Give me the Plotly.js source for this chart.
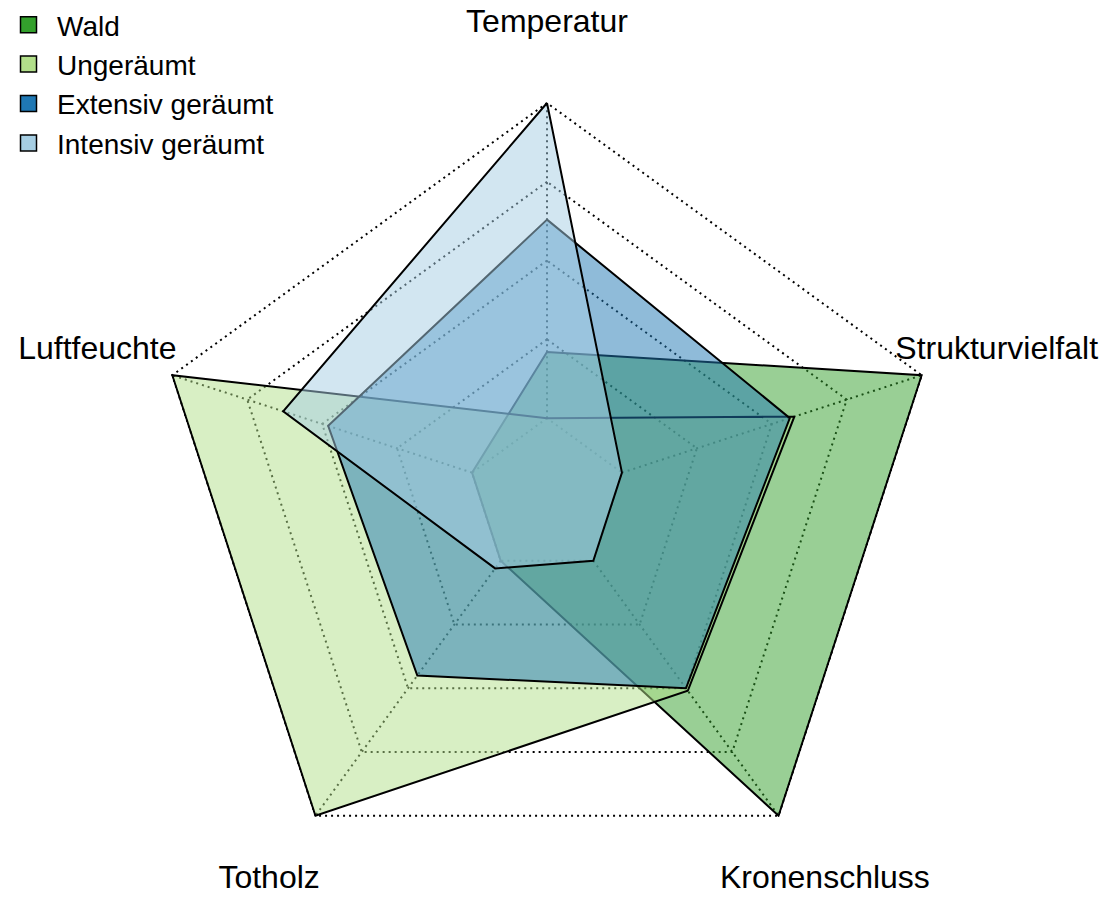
<!DOCTYPE html>
<html>
<head>
<meta charset="utf-8">
<script src="https://cdn.plot.ly/plotly-3.0.1.min.js"></script>
<style>
  html, body { margin: 0; padding: 0; background: #ffffff; }
  #chart { width: 1107px; height: 901px; }
</style>
</head>
<body>
<div id="chart"></div>
<script>
// Axes (counter-clockwise from the top, as in fmsb radar charts)
const categories = ["Temperatur", "Luftfeuchte", "Totholz", "Kronenschluss", "Strukturvielfalt"];

// Series (scaled 0 = min, 1 = max of each axis)
const seriesNames = ["Wald", "Ungeräumt", "Extensiv geräumt", "Intensiv geräumt"];
const wald       = [0.21, 0.00, 0.00, 1.00, 1.00];
const ungeraeumt = [0.00, 1.00, 1.00, 0.51, 0.575];
const extensiv   = [0.63, 0.48, 0.45, 0.50, 0.56];
const intensiv   = [1.00, 0.63, 0.03, 0.00, 0.00];

// Grid levels (4 segments)
const gridLevels = [0, 0.25, 0.5, 0.75, 1];

const seriesValues = [wald, ungeraeumt, extensiv, intensiv];
const colors = ["#33A02C", "#B2DF8A", "#1F78B4", "#A6CEE3"];
const fills  = ["rgba(51,160,44,0.5)", "rgba(178,223,138,0.5)", "rgba(31,120,180,0.5)", "rgba(166,206,227,0.5)"];
const FONT = "Liberation Sans, Arial, sans-serif";

// geometry of the radar (pixels)
const W = 1107, H = 901;
const CX = 547, CY = 497, R = 394;        // centre and radius of the max ring
const R_MIN = -0.25, R_MAX = 1.005;        // radial range: min value sits at 0.2 R
const RP = R * (R_MAX - R_MIN) / (1 - R_MIN);
const LABEL_RADIUS = 1.2;                   // labels at 1.2 x outer radius

const DOT = "2px,4px";
const traces = [];

// spokes from the minimum ring to the maximum ring
const spokeTheta = [], spokeR = [];
categories.forEach(c => {
  spokeTheta.push(c, c, c);
  spokeR.push(gridLevels[0], gridLevels[gridLevels.length - 1], null);
});
traces.push({
  type: "scatterpolar", mode: "lines",
  theta: spokeTheta, r: spokeR,
  line: { color: "#000000", width: 2, dash: DOT },
  connectgaps: false, showlegend: false, hoverinfo: "skip"
});

// data polygons
seriesValues.forEach((vals, i) => {
  traces.push({
    type: "scatterpolar", mode: "lines",
    theta: categories.concat([categories[0]]),
    r: vals.concat([vals[0]]),
    fill: "toself", fillcolor: fills[i],
    line: { color: "#000000", width: 2 },
    name: seriesNames[i], showlegend: false, hoverinfo: "skip"
  });
});

// legend entries
seriesNames.forEach((n, i) => {
  traces.push({
    type: "scatterpolar", mode: "markers",
    theta: [null], r: [null],
    name: n,
    marker: { symbol: "square", size: 16, color: colors[i], line: { color: "#000000", width: 1.5 } },
    showlegend: true, hoverinfo: "skip"
  });
});

// axis labels: on an overlay axis measured in outer-radius units
const labelAngles = categories.map((c, i) => (90 + i * 360 / categories.length) * Math.PI / 180);
traces.push({
  type: "scatter", mode: "text", xaxis: "x", yaxis: "y",
  x: labelAngles.map(a => LABEL_RADIUS * Math.cos(a)),
  y: labelAngles.map(a => LABEL_RADIUS * Math.sin(a)),
  text: categories, textposition: "middle center",
  textfont: { family: FONT, size: 32, color: "#000000" },
  cliponaxis: false, showlegend: false, hoverinfo: "skip"
});

const layout = {
  width: W, height: H,
  margin: { l: 0, r: 0, t: 0, b: 0 },
  paper_bgcolor: "#ffffff",
  plot_bgcolor: "rgba(0,0,0,0)",
  font: { family: FONT, color: "#000000" },
  showlegend: true,
  legend: {
    x: 0, y: 1, xanchor: "left", yanchor: "top",
    itemwidth: 47,
    font: { family: FONT, size: 28, color: "#000000" },
    bgcolor: "rgba(0,0,0,0)", borderwidth: 0,
    tracegroupgap: 0
  },
  xaxis: {
    domain: [0, 1], range: [(0 - CX) / R, (W - CX) / R],
    visible: false, fixedrange: true
  },
  yaxis: {
    domain: [0, 1], range: [(CY - H) / R, CY / R],
    visible: false, fixedrange: true
  },
  polar: {
    domain: {
      x: [(CX - RP) / W, (CX + RP) / W],
      y: [(H - CY - RP) / H, (H - CY + RP) / H]
    },
    gridshape: "linear",
    bgcolor: "rgba(0,0,0,0)",
    radialaxis: {
      range: [R_MIN, R_MAX],
      tickvals: gridLevels,
      showticklabels: false, ticks: "",
      showline: false,
      showgrid: true, gridcolor: "#000000", gridwidth: 2, griddash: DOT
    },
    angularaxis: {
      rotation: 90, direction: "counterclockwise",
      showgrid: false, showline: false, showticklabels: false, ticks: ""
    }
  },
  hovermode: false
};

Plotly.newPlot("chart", traces, layout, { staticPlot: true, displayModeBar: false });
</script>
</body>
</html>
